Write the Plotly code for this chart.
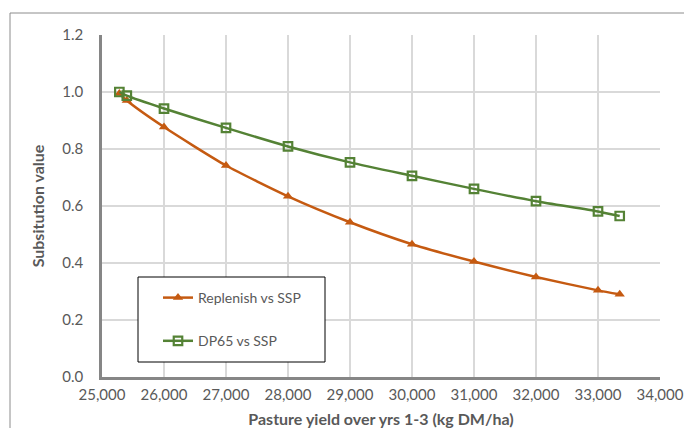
import plotly.graph_objects as go

yield_kg = [25280, 25400, 26000, 27000, 28000, 29000, 30000, 31000, 32000, 33000, 33350]
replenish = [0.995, 0.970, 0.877, 0.742, 0.634, 0.543, 0.466, 0.405, 0.351, 0.304, 0.290]
dp65 = [1.000, 0.987, 0.942, 0.874, 0.809, 0.753, 0.706, 0.660, 0.617, 0.581, 0.565]
series_names = ["Replenish vs SSP", "DP65 vs SSP"]
x_ticks = [25000, 26000, 27000, 28000, 29000, 30000, 31000, 32000, 33000, 34000]
y_ticks = [0.0, 0.2, 0.4, 0.6, 0.8, 1.0, 1.2]

ORANGE = "#C55A11"
GREEN = "#548235"
FONT = "Lato"
TXT = "#595959"

fig = go.Figure()
fig.add_trace(go.Scatter(
    x=yield_kg, y=replenish, name=series_names[0], mode="lines+markers",
    line=dict(color=ORANGE, width=2.5, shape="spline", smoothing=0.6),
    marker=dict(symbol="triangle-up", size=9, color=ORANGE),
    legendgroup="a",
))
fig.add_trace(go.Scatter(
    x=yield_kg, y=dp65, name=series_names[1], mode="lines+markers",
    line=dict(color=GREEN, width=2.5, shape="spline", smoothing=0.6),
    marker=dict(symbol="square-open", size=8.5, color=GREEN, line=dict(width=2.2, color=GREEN)),
    legendgroup="b",
))

# page body has an 8px margin all round; size the figure so the page does not overflow
OFF = 8
FW, FH = 692 - 2 * OFF, 436 - 2 * OFF
# on-screen plot area
L, R, T, B = 102, 660, 35, 377
W, H = R - L, B - T

def px(xp):
    return (xp - L) / W

def py(yp):
    return (B - yp) / H

frame = dict(color="#8c8c8c", width=1)
shapes = [
    # outer chart frame: left and top edges only
    dict(type="line", xref="paper", yref="paper", x0=px(10), x1=px(10), y0=py(FH + OFF), y1=py(13), line=frame, layer="below"),
    dict(type="line", xref="paper", yref="paper", x0=px(10), x1=px(FW + OFF), y0=py(13), y1=py(13), line=frame, layer="below"),
    # legend box
    dict(type="rect", xref="paper", yref="paper", x0=px(138), x1=px(325), y0=py(362), y1=py(277),
         line=dict(color="#000000", width=1), fillcolor="white", layer="above"),
]

fig.update_layout(
    width=FW, height=FH,
    margin=dict(l=L - OFF, r=FW - (R - OFF), t=T - OFF, b=FH - (B - OFF), autoexpand=False),
    paper_bgcolor="white", plot_bgcolor="white",
    font=dict(family=FONT, size=14, color=TXT),
    showlegend=True,
    legend=dict(
        x=px(158), y=py(282), xanchor="left", yanchor="top",
        bgcolor="rgba(0,0,0,0)", borderwidth=0,
        font=dict(family=FONT, size=14, color=TXT),
        tracegroupgap=22, traceorder="grouped",
    ),
    shapes=shapes,
)
fig.update_xaxes(
    range=[25000, 34000], tickvals=x_ticks, tickformat=",d",
    showgrid=True, gridcolor="#d9d9d9", gridwidth=1.5,
    showline=True, linecolor="#868686", linewidth=2.5,
    ticks="", ticklabelstandoff=2,
    tickfont=dict(family=FONT, size=15, color=TXT),
    title=dict(text="<b>Pasture yield over yrs 1-3 (kg DM/ha)</b>", font=dict(family=FONT, size=16, color=TXT), standoff=15),
    zeroline=False, automargin=False,
)
fig.update_yaxes(
    range=[0, 1.2], tickvals=y_ticks, tickformat=".1f",
    showgrid=True, gridcolor="#d9d9d9", gridwidth=1.5,
    showline=True, linecolor="#868686", linewidth=2.5,
    ticks="", ticklabelstandoff=13,
    tickfont=dict(family=FONT, size=15, color=TXT),
    title=dict(text="<b>Subsitution value</b>", font=dict(family=FONT, size=16, color=TXT), standoff=14),
    zeroline=False, automargin=False,
)

fig.write_html("out.html")
